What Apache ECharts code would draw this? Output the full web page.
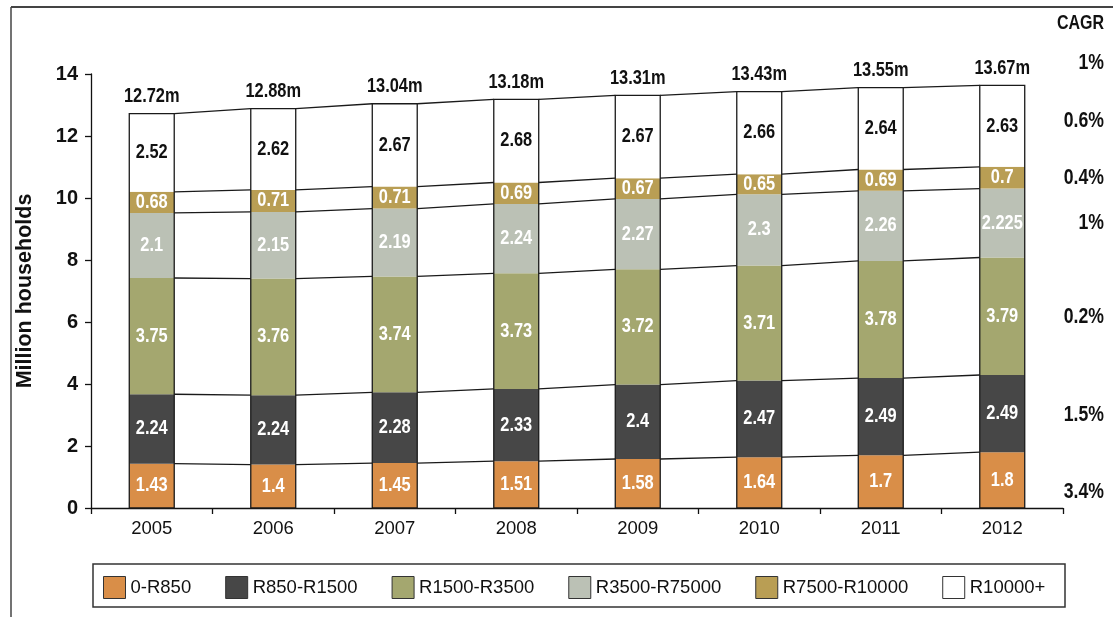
<!DOCTYPE html>
<html>
<head>
<meta charset="utf-8">
<script src="https://cdn.jsdelivr.net/npm/echarts@6/dist/echarts.min.js"></script>
<style>
  html, body { margin: 0; padding: 0; background: #fff; }
  #chart { width: 1113px; height: 617px; }
</style>
</head>
<body>
<div id="chart"></div>
<script>
// ---------- data ----------
const categories = ['2005', '2006', '2007', '2008', '2009', '2010', '2011', '2012'];
const seriesNames = ['0-R850', 'R850-R1500', 'R1500-R3500', 'R3500-R75000', 'R7500-R10000', 'R10000+'];
const band0to850 = [1.43, 1.4, 1.45, 1.51, 1.58, 1.64, 1.7, 1.8];
const band850to1500 = [2.24, 2.24, 2.28, 2.33, 2.4, 2.47, 2.49, 2.49];
const band1500to3500 = [3.75, 3.76, 3.74, 3.73, 3.72, 3.71, 3.78, 3.79];
const band3500to7500 = [2.1, 2.15, 2.19, 2.24, 2.27, 2.3, 2.26, 2.225];
const band7500to10000 = [0.68, 0.71, 0.71, 0.69, 0.67, 0.65, 0.69, 0.7];
const band10000plus = [2.52, 2.62, 2.67, 2.68, 2.67, 2.66, 2.64, 2.63];
const totalLabels = ['12.72m', '12.88m', '13.04m', '13.18m', '13.31m', '13.43m', '13.55m', '13.67m'];
const cagrTitle = 'CAGR';
const cagrLabels = ['1%', '0.6%', '0.4%', '1%', '0.2%', '1.5%', '3.4%'];
const yAxisName = 'Million households';
const yMin = 0, yMax = 14, yInterval = 2;

// ---------- styling ----------
const bands = [band0to850, band850to1500, band1500to3500, band3500to7500, band7500to10000, band10000plus];
const colors = ['#D98E48', '#474747', '#A4A76F', '#BBC1B5', '#B99E54', '#FFFFFF'];
const labelColors = ['#fff', '#fff', '#fff', '#fff', '#fff', '#111'];
const FONT = "'Liberation Sans', Arial, sans-serif";
const NARROW = 0.82;
const BAR_RATIO = 0.37;
const cagrY = [63, 121, 178, 223, 317, 415, 492];

function cumulative(i) {
  const out = [];
  let s = 0;
  for (let k = 0; k < bands.length; k++) { s += bands[k][i]; out.push(s); }
  return out;
}

function narrowText(x, y, text, size, color, align) {
  return {
    type: 'text', x: x, y: y, scaleX: NARROW,
    style: {
      x: 0, y: 0, text: text,
      align: align || 'center', verticalAlign: 'middle',
      fill: color, font: 'bold ' + size + 'px ' + FONT
    }
  };
}

const chart = echarts.init(document.getElementById('chart'), null, { renderer: 'canvas' });

const barSeries = seriesNames.map((name, k) => ({
  name: name,
  type: 'bar',
  stack: 'total',
  barWidth: (BAR_RATIO * 100) + '%',
  data: bands[k],
  itemStyle: { color: colors[k] },
  label: { show: false },
  emphasis: { disabled: true },
  z: 2
}));

const outlineSeries = {
  type: 'custom',
  name: 'outline',
  data: categories.map((c, i) => [i, cumulative(i)[bands.length - 1]]),
  encode: { x: 0, y: 1 },
  renderItem: function (params, api) {
    const i = params.dataIndex;
    const bw = api.size([1, 0])[0] * BAR_RATIO;
    const cum = cumulative(i);
    const base = api.coord([i, 0]);
    const top = api.coord([i, cum[cum.length - 1]]);
    const children = [{
      type: 'rect',
      shape: { x: base[0] - bw / 2, y: top[1], width: bw, height: base[1] - top[1] },
      style: { fill: 'none', stroke: '#1a1a1a', lineWidth: 1.3 }
    }];
    children.push(narrowText(top[0], top[1] - 17, totalLabels[i], 20, '#111'));
    for (let k = 0; k < bands.length; k++) {
      const lo = k === 0 ? 0 : cum[k - 1];
      const mid = api.coord([i, (lo + cum[k]) / 2]);
      children.push(narrowText(mid[0], mid[1], String(bands[k][i]), 20, labelColors[k]));
    }
    if (i < categories.length - 1) {
      const cumNext = cumulative(i + 1);
      for (let k = 0; k < cum.length; k++) {
        const p1 = api.coord([i, cum[k]]);
        const p2 = api.coord([i + 1, cumNext[k]]);
        children.push({
          type: 'line',
          shape: { x1: p1[0] + bw / 2, y1: p1[1], x2: p2[0] - bw / 2, y2: p2[1] },
          style: { stroke: '#1a1a1a', lineWidth: 1.3 }
        });
      }
    }
    return { type: 'group', children: children };
  },
  silent: true,
  z: 5
};

const graphics = [
  { type: 'line', shape: { x1: 11, y1: 7, x2: 1113, y2: 7 }, style: { stroke: '#444', lineWidth: 2 } },
  { type: 'line', shape: { x1: 11, y1: 7, x2: 11, y2: 617 }, style: { stroke: '#444', lineWidth: 1.5 } },
  { type: 'rect', shape: { x: 93, y: 564, width: 972, height: 43 }, style: { fill: 'none', stroke: '#333', lineWidth: 1.5 } },
  narrowText(1104, 24, cagrTitle, 19.5, '#111', 'right')
];
cagrLabels.forEach((t, j) => {
  graphics.push(narrowText(1104, cagrY[j], t, 21.5, '#111', 'right'));
});

chart.setOption({
  animation: false,
  backgroundColor: '#fff',
  grid: { left: 91, right: 50, top: 74, bottom: 109, containLabel: false },
  legend: {
    left: 103, top: 576,
    padding: 0,
    itemWidth: 22, itemHeight: 22,
    itemGap: 34,
    icon: 'rect',
    data: seriesNames,
    itemStyle: { borderColor: '#333', borderWidth: 1 },
    textStyle: { fontFamily: FONT, fontSize: 18.5, color: '#111' },
    selectedMode: false
  },
  xAxis: {
    type: 'category',
    data: categories,
    boundaryGap: true,
    axisLine: { lineStyle: { color: '#111', width: 1.3 } },
    axisTick: { show: true, length: 6, alignWithLabel: false, lineStyle: { color: '#111', width: 1.3 } },
    axisLabel: { fontFamily: FONT, fontSize: 18.5, color: '#111', margin: 11 },
    splitLine: { show: false }
  },
  yAxis: {
    type: 'value',
    min: yMin, max: yMax, interval: yInterval,
    name: yAxisName,
    nameLocation: 'middle',
    nameGap: 55,
    nameRotate: 90,
    nameTextStyle: { fontFamily: FONT, fontWeight: 'bold', fontSize: 21.5, color: '#111' },
    axisLine: { show: true, lineStyle: { color: '#111', width: 1.3 } },
    axisTick: { show: true, length: 6, lineStyle: { color: '#111', width: 1.3 } },
    axisLabel: { fontFamily: FONT, fontWeight: 'bold', fontSize: 20, color: '#111', margin: 13 },
    splitLine: { show: false }
  },
  graphic: graphics,
  series: barSeries.concat([outlineSeries])
});
</script>
</body>
</html>
